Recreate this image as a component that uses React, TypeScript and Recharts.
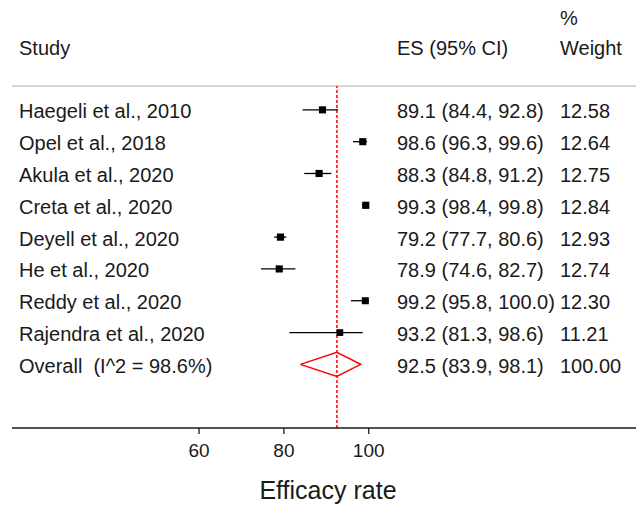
import React from 'react';
import {
  ComposedChart,
  Scatter,
  XAxis,
  YAxis,
  ErrorBar,
  ReferenceLine,
  Customized,
} from 'recharts';

// ---------- data ----------
const studies = [
  'Haegeli et al., 2010',
  'Opel et al., 2018',
  'Akula et al., 2020',
  'Creta et al., 2020',
  'Deyell et al., 2020',
  'He et al., 2020',
  'Reddy et al., 2020',
  'Rajendra et al., 2020',
];
const es = [89.1, 98.6, 88.3, 99.3, 79.2, 78.9, 99.2, 93.2];
const lower = [84.4, 96.3, 84.8, 98.4, 77.7, 74.6, 95.8, 81.3];
const upper = [92.8, 99.6, 91.2, 99.8, 80.6, 82.7, 100.0, 98.6];
const weights = [12.58, 12.64, 12.75, 12.84, 12.93, 12.74, 12.3, 11.21];

const overallLabel = 'Overall  (I^2 = 98.6%)';
const overallEs = 92.5;
const overallLower = 83.9;
const overallUpper = 98.1;
const overallWeight = 100.0;

const xTicks = [60, 80, 100];
const axisTitle = 'Efficacy rate';
const headerStudy = 'Study';
const headerEs = 'ES (95% CI)';
const headerWeight1 = '%';
const headerWeight2 = 'Weight';

// ---------- layout / style constants ----------
const W = 636;
const H = 499;
const FONT = 'Liberation Sans, Arial, Helvetica, sans-serif';
const TEXT = '#1a1a1a';
const COL_STUDY = 11;
const COL_ES = 389;
const COL_W = 552;
const DIAMOND_HALF = 0.38;

const fmt = (a: number, l: number, u: number) =>
  `${a.toFixed(1)} (${l.toFixed(1)}, ${u.toFixed(1)})`;

const studyRows = studies.map((s, i) => ({
  x: es[i],
  y: i + 1,
  err: [es[i] - lower[i], upper[i] - es[i]],
  w: weights[i],
}));

const overallRow = studies.length + 1;

const diamond = [
  { x: overallLower, y: overallRow },
  { x: overallEs, y: overallRow - DIAMOND_HALF },
  { x: overallUpper, y: overallRow },
  { x: overallEs, y: overallRow + DIAMOND_HALF },
  { x: overallLower, y: overallRow },
];

// text rows anchored on the y scale (x value only needs to be inside the domain)
const rowText = [
  ...studies.map((s, i) => ({
    x: overallEs,
    y: i + 1,
    name: s,
    ci: fmt(es[i], lower[i], upper[i]),
    wt: weights[i].toFixed(2),
  })),
  {
    x: overallEs,
    y: overallRow,
    name: overallLabel,
    ci: fmt(overallEs, overallLower, overallUpper),
    wt: overallWeight.toFixed(2),
  },
];

const RowText = (props: any) => {
  const { cy, payload } = props;
  if (cy == null || !payload) return null;
  const by = cy + 8.5;
  return (
    <g fontFamily={FONT} fontSize={20} fill={TEXT}>
      <text x={COL_STUDY} y={by} style={{ whiteSpace: 'pre' }}>
        {payload.name}
      </text>
      <text x={COL_ES} y={by}>{payload.ci}</text>
      <text x={COL_W} y={by}>{payload.wt}</text>
    </g>
  );
};

const Square = (props: any) => {
  const { cx, cy, payload } = props;
  if (cx == null || cy == null) return null;
  const s = Math.sqrt(payload.w) * 2;
  return <rect x={cx - s / 2} y={cy - s / 2} width={s} height={s} fill="#000" />;
};

const NoShape = () => <g />;

const Header = () => (
  <g fontFamily={FONT} fontSize={20} fill={TEXT}>
    <text x={COL_STUDY} y={47}>{headerStudy}</text>
    <text x={COL_ES} y={47}>{headerEs}</text>
    <text x={COL_W} y={17}>{headerWeight1}</text>
    <text x={COL_W} y={47}>{headerWeight2}</text>
  </g>
);

const AxisTitle = (props: any) => {
  const vb = props.viewBox || {};
  return (
    <text
      x={vb.x + vb.width / 2}
      y={vb.y + 71}
      textAnchor="middle"
      fontFamily={FONT}
      fontSize={25}
      fill={TEXT}
    >
      {axisTitle}
    </text>
  );
};

export default function App() {
  return (
    <ComposedChart
      width={W}
      height={H}
      margin={{ top: 78, right: 0, bottom: 0, left: 4 }}
      style={{ background: '#fff' }}
    >
      <XAxis
        type="number"
        dataKey="x"
        domain={[15.9, 164.9]}
        allowDataOverflow
        ticks={xTicks}
        interval={0}
        height={79}
        axisLine={{ stroke: '#1a1a1a', strokeWidth: 1.3 }}
        tickLine={{ stroke: '#1a1a1a', strokeWidth: 1.3 }}
        tickSize={6}
        tickMargin={10}
        tick={{ fontSize: 19, fill: TEXT, fontFamily: FONT }}
        label={<AxisTitle />}
      />
      <YAxis
        type="number"
        dataKey="y"
        domain={[0.25, 11]}
        allowDataOverflow
        reversed
        hide
        width={0}
      />
      <ReferenceLine y={0.25} stroke="#c8c8c8" strokeWidth={1.3} />
      <ReferenceLine
        x={overallEs}
        stroke="#ff0000"
        strokeWidth={1.5}
        strokeDasharray="3 2"
      />
      <Scatter
        data={studyRows}
        shape={<Square />}
        isAnimationActive={false}
      >
        <ErrorBar
          dataKey="err"
          direction="x"
          width={0}
          stroke="#000"
          strokeWidth={1.3}
          isAnimationActive={false}
        />
      </Scatter>
      <Scatter
        data={diamond}
        line={{ stroke: '#ff0000', strokeWidth: 1.5 }}
        lineType="joint"
        shape={<NoShape />}
        isAnimationActive={false}
      />
      <Scatter data={rowText} shape={<RowText />} isAnimationActive={false} />
      <Customized component={<Header />} />
    </ComposedChart>
  );
}
